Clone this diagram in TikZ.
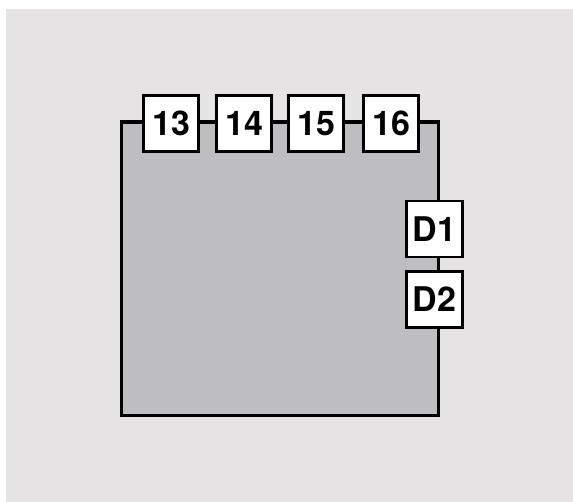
\documentclass[tikz,border=0pt]{standalone}
\usepackage{fontspec}
\setmainfont{TeX Gyre Heros}
\definecolor{bgc}{HTML}{E5E3E4}
\definecolor{boxc}{HTML}{BEBEC1}
\begin{document}
\begin{tikzpicture}[x=1pt,y=-1pt,
  pin/.style={draw=black,line width=2.6pt,fill=white,minimum width=55.5pt,minimum height=56pt,inner sep=0pt,font=\fontsize{34}{34}\selectfont\bfseries}]
\useasboundingbox (0,0) rectangle (573,502);
\fill[white] (0,0) rectangle (573,502);
\fill[bgc] (6,9) rectangle (573,502);
\coordinate (tl) at (121.5,122);
\coordinate (tr) at (438.5,122);
\coordinate (br) at (438.5,415.5);
\coordinate (bl) at (121.5,415.5);
\draw[line width=3.2pt,fill=boxc] (tl) -- (tr) -- (br) -- (bl) -- cycle;
\node[pin] (p13) at (171,123.5) {13};
\node[pin] (p14) at (244,123.5) {14};
\node[pin] (p15) at (316,123.5) {15};
\node[pin] (p16) at (391,123.5) {16};
\node[pin] (d1) at (434.5,229) {D1};
\node[pin] (d2) at (434.5,299.5) {D2};
\end{tikzpicture}
\end{document}
